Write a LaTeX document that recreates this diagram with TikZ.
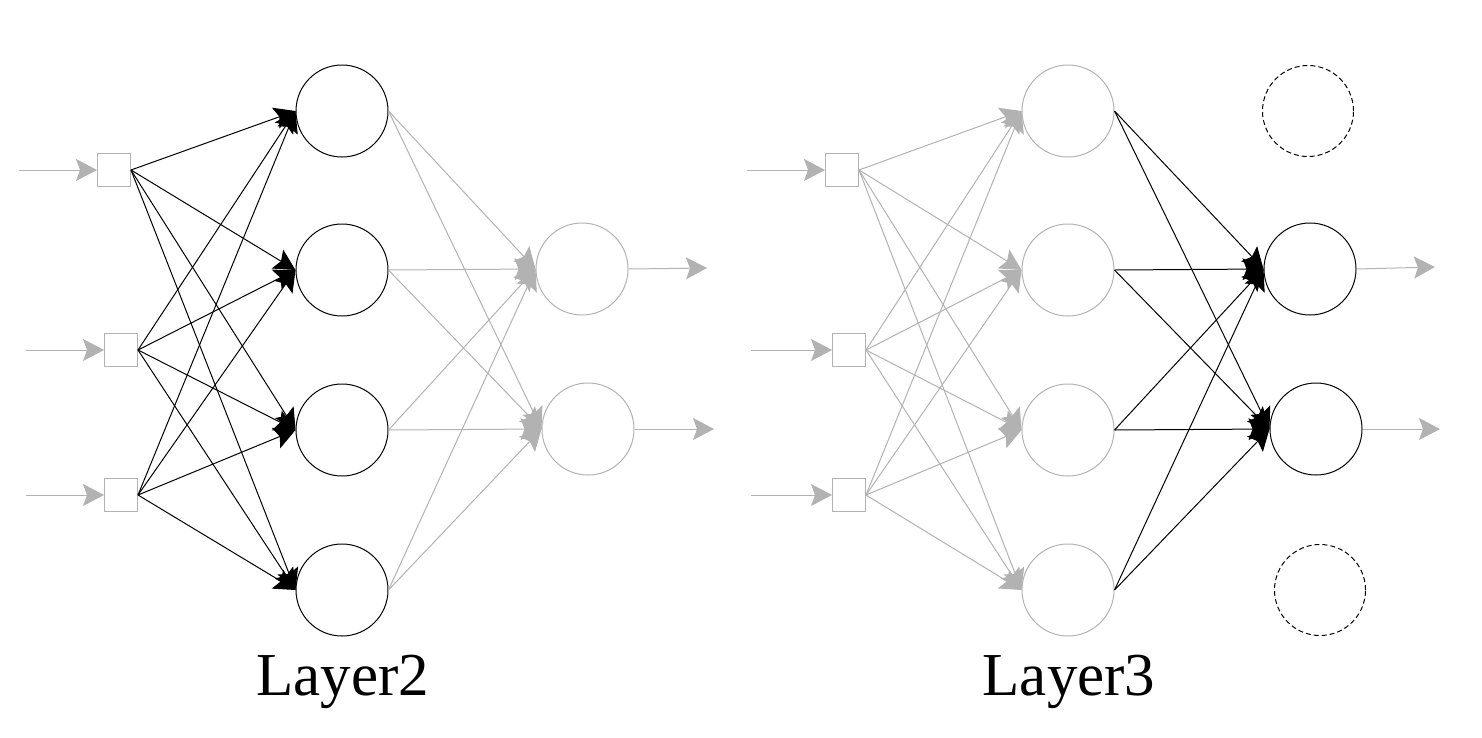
\documentclass[tikz,border=0pt]{standalone}
\usepackage{fontspec}
\setmainfont{Liberation Serif}
\usetikzlibrary{arrows.meta}
\definecolor{gr}{RGB}{178,178,178}
\begin{document}
\begin{tikzpicture}[x=1pt,y=-1pt,
  neuron/.style={circle,draw,minimum size=92pt,inner sep=0pt,line width=1pt},
  ghost/.style={circle,draw,minimum size=91pt,inner sep=0pt,line width=1pt,dash pattern=on 5pt off 3pt},
  inbox/.style={rectangle,draw=gr,minimum size=33pt,inner sep=0pt,line width=1pt},
  conn/.style={line width=1pt,-{Stealth[length=21pt,width=22pt,inset=4pt]}},
  lbl/.style={anchor=base,inner sep=0pt,font=\fontsize{61}{61}\selectfont}]
\useasboundingbox (0,0) rectangle (1482,737);
% ---------- left network ----------
\node[inbox] (La1) at (114,170) {};
\node[inbox] (La2) at (121,350) {};
\node[inbox] (La3) at (121,495) {};
\node[neuron] (Lh1) at (342,111) {};
\node[neuron] (Lh2) at (342,270) {};
\node[neuron] (Lh3) at (342,430) {};
\node[neuron] (Lh4) at (342,590) {};
\node[neuron,draw=gr] (Lo1) at (582,269) {};
\node[neuron,draw=gr] (Lo2) at (588,429) {};
\coordinate (Li1) at (19,170);
\coordinate (Li2) at (26,350);
\coordinate (Li3) at (26,495);
\coordinate (Lq1) at (707,268);
\coordinate (Lq2) at (714,429);
\foreach \i in {1,2,3} \draw[conn,gr] (Li\i) -- (La\i.west);
\foreach \i in {1,2,3} \foreach \j in {1,2,3,4} \draw[conn,black] (La\i.east) -- (Lh\j.west);
\foreach \j in {1,2,3,4} \foreach \k in {1,2} \draw[conn,gr] (Lh\j.east) -- (Lo\k.west);
\foreach \k in {1,2} \draw[conn,gr] (Lo\k.east) -- (Lq\k);
\node[lbl] (Lt) at (343,695) {Layer2};
% ---------- right network ----------
\node[inbox] (Ra1) at (842,170) {};
\node[inbox] (Ra2) at (849,350) {};
\node[inbox] (Ra3) at (849,495) {};
\node[neuron,draw=gr] (Rh1) at (1068,111) {};
\node[neuron,draw=gr] (Rh2) at (1068,270) {};
\node[neuron,draw=gr] (Rh3) at (1068,430) {};
\node[neuron,draw=gr] (Rh4) at (1068,590) {};
\node[neuron] (Ro1) at (1310,269) {};
\node[neuron] (Ro2) at (1316,429) {};
\node[ghost] (Rd1) at (1308,111) {};
\node[ghost] (Rd2) at (1320,590) {};
\coordinate (Ri1) at (747,170);
\coordinate (Ri2) at (751,350);
\coordinate (Ri3) at (751,495);
\coordinate (Rq1) at (1435,267);
\coordinate (Rq2) at (1440,429);
\foreach \i in {1,2,3} \draw[conn,gr] (Ri\i) -- (Ra\i.west);
\foreach \i in {1,2,3} \foreach \j in {1,2,3,4} \draw[conn,gr] (Ra\i.east) -- (Rh\j.west);
\foreach \j in {1,2,3,4} \foreach \k in {1,2} \draw[conn,black] (Rh\j.east) -- (Ro\k.west);
\foreach \k in {1,2} \draw[conn,gr] (Ro\k.east) -- (Rq\k);
\node[lbl] (Rt) at (1069,695) {Layer3};
\end{tikzpicture}
\end{document}
